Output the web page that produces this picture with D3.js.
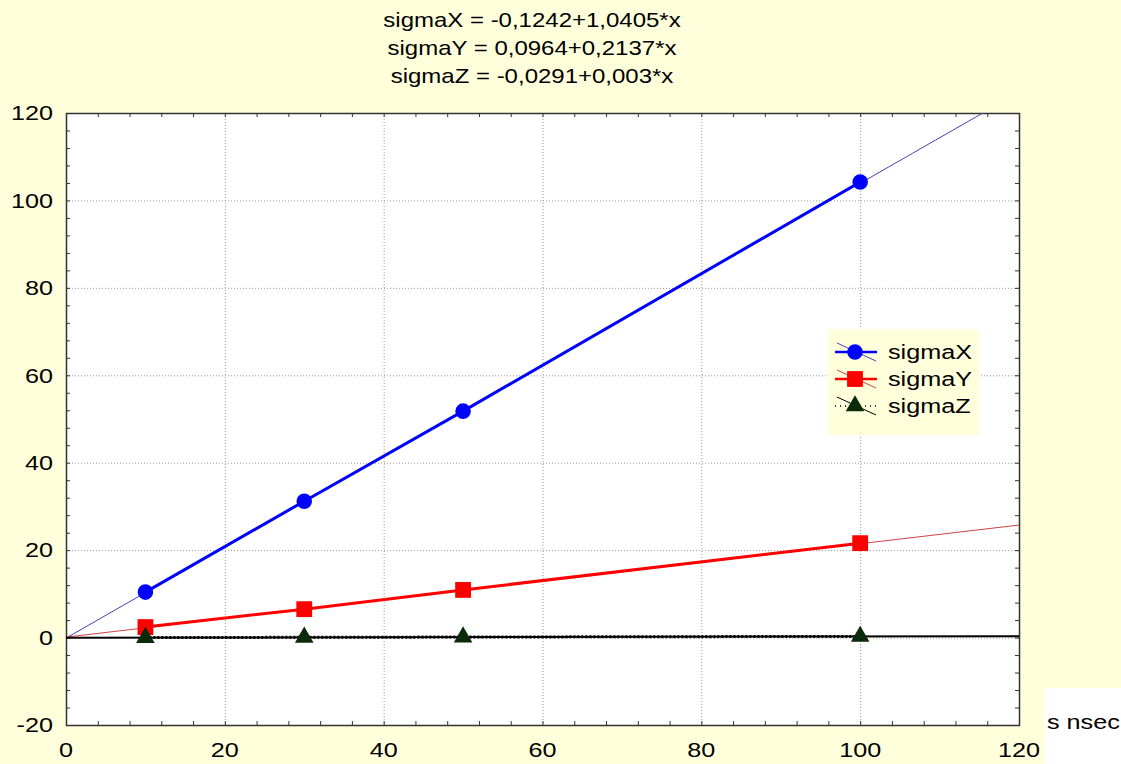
<!DOCTYPE html>
<html>
<head>
<meta charset="utf-8">
<script src="https://cdn.jsdelivr.net/npm/d3@7"></script>
<style>
  body { margin: 0; background: #ffffdc; }
  text { font-family: "Liberation Sans", Arial, sans-serif; fill: #000; }
</style>
</head>
<body>
<div class="container"></div>
<script>
// data
var xValues = [10, 30, 50, 100];
var sigmaX = [10.4, 31.2, 51.8, 104.2];
var sigmaY = [2.4, 6.5, 10.9, 21.6];
var sigmaZ = [0.0, 0.06, 0.12, 0.27];

// fitted lines, as printed in the title (intercept, slope)
var fitNames = ['sigmaX', 'sigmaY', 'sigmaZ'];
var fitIntercepts = [-0.1242, 0.0964, -0.0291];
var fitSlopes = [1.0405, 0.2137, 0.003];
var titleLines = [
  'sigmaX = -0,1242+1,0405*x',
  'sigmaY = 0,0964+0,2137*x',
  'sigmaZ = -0,0291+0,003*x'
];
var xTicks = [0, 20, 40, 60, 80, 100, 120];
var yTicks = [-20, 0, 20, 40, 60, 80, 100, 120];
var xLabel = 's nsec';

const WIDTH = 1121;
const HEIGHT = 764;
const LEFT = 66, RIGHT = 1019, TOP = 113, BOTTOM = 725;
const SX = 1.2; // the original picture is stretched sideways

var xScale = d3.scaleLinear().domain([0, 120]).range([LEFT, RIGHT]);
var yScale = d3.scaleLinear().domain([-20, 120]).range([BOTTOM, TOP]);

var svg = d3.select('.container').append('svg')
    .attr('width', WIDTH)
    .attr('height', HEIGHT);

svg.append('rect')
    .attr('width', WIDTH).attr('height', HEIGHT)
    .attr('fill', '#ffffdc');

// white box under the axis title
svg.append('rect')
    .attr('x', 1045).attr('y', 688)
    .attr('width', 76).attr('height', 76)
    .attr('fill', '#ffffff');

svg.append('rect')
    .attr('x', LEFT).attr('y', TOP)
    .attr('width', RIGHT - LEFT).attr('height', BOTTOM - TOP)
    .attr('fill', '#ffffff');

var stretched = (sel, x, y) => sel.attr('transform', `translate(${x},${y}) scale(${SX},1)`);

// title
titleLines.forEach((t, i) => {
  svg.append('text')
    .text(t)
    .attr('text-anchor', 'middle')
    .attr('font-size', 20)
    .call(stretched, 532, 27 + i * 28);
});

// grid
var grid = svg.append('g')
    .attr('stroke', '#999')
    .attr('stroke-width', 1)
    .attr('stroke-dasharray', '1,2');

grid.selectAll('.gx')
    .data(xTicks.slice(1, -1))
    .enter().append('line')
    .attr('x1', d => xScale(d) + 0.5).attr('x2', d => xScale(d) + 0.5)
    .attr('y1', TOP).attr('y2', BOTTOM);

grid.selectAll('.gy')
    .data(yTicks.slice(1, -1))
    .enter().append('line')
    .attr('y1', d => yScale(d) + 0.5).attr('y2', d => yScale(d) + 0.5)
    .attr('x1', LEFT).attr('x2', RIGHT);

// axes with inward minor ticks every 4 units
var minor = d3.range(0, 121, 4);
var minorY = d3.range(-20, 121, 4);

svg.append('g')
    .attr('transform', `translate(0,${BOTTOM})`)
    .call(d3.axisTop(xScale).tickValues(minor).tickSize(4).tickFormat(''));
svg.append('g')
    .attr('transform', `translate(0,${TOP})`)
    .call(d3.axisBottom(xScale).tickValues(minor).tickSize(4).tickFormat(''));
svg.append('g')
    .attr('transform', `translate(${LEFT},0)`)
    .call(d3.axisRight(yScale).tickValues(minorY).tickSize(4).tickFormat(''));
svg.append('g')
    .attr('transform', `translate(${RIGHT},0)`)
    .call(d3.axisLeft(yScale).tickValues(minorY).tickSize(4).tickFormat(''));

svg.selectAll('.domain').remove();
svg.selectAll('.tick line').attr('stroke', '#333');

svg.append('rect')
    .attr('x', LEFT + 0.5).attr('y', TOP + 0.5)
    .attr('width', RIGHT - LEFT).attr('height', BOTTOM - TOP)
    .attr('fill', 'none')
    .attr('stroke', '#333')
    .attr('stroke-width', 1.5);

// tick labels
xTicks.forEach(d => {
  svg.append('text').text(d)
    .attr('text-anchor', 'middle')
    .attr('font-size', 21)
    .call(stretched, xScale(d), 757);
});
yTicks.forEach(d => {
  svg.append('text').text(d)
    .attr('text-anchor', 'end')
    .attr('font-size', 21)
    .attr('dy', '0.35em')
    .call(stretched, 53, yScale(d));
});

svg.append('text').text(xLabel)
    .attr('font-size', 21)
    .call(stretched, 1047, 729);

// series
var series = [
  { name: 'sigmaX', values: sigmaX, color: '#0000ff', fit: '#4444bb', shape: d3.symbolCircle, size: 190, dash: null },
  { name: 'sigmaY', values: sigmaY, color: '#ff0000', fit: '#cc4444', shape: d3.symbolSquare, size: 250, dash: null },
  { name: 'sigmaZ', values: sigmaZ, color: '#000000', fit: '#000000', shape: d3.symbolTriangle, size: 150, dash: '2,2' }
];

svg.append('clipPath').attr('id', 'plot')
    .append('rect')
    .attr('x', LEFT).attr('y', TOP)
    .attr('width', RIGHT - LEFT).attr('height', BOTTOM - TOP);

var plot = svg.append('g').attr('clip-path', 'url(#plot)');

var line = d3.line()
    .x(d => xScale(d[0]))
    .y(d => yScale(d[1]));

series.forEach((s, i) => {
  var fitPts = [0, 120].map(x => [x, fitIntercepts[i] + fitSlopes[i] * x]);
  plot.append('path')
    .attr('d', line(fitPts))
    .attr('fill', 'none')
    .attr('stroke', s.fit)
    .attr('stroke-width', i === 2 ? 2 : 1);

  plot.append('path')
    .attr('d', line(xValues.map((x, j) => [x, s.values[j]])))
    .attr('fill', 'none')
    .attr('stroke', s.color)
    .attr('stroke-width', 3)
    .attr('stroke-dasharray', s.dash);
});

series.forEach(s => {
  plot.append('g').selectAll('path')
    .data(xValues)
    .enter().append('path')
    .attr('d', d3.symbol().type(s.shape).size(s.size))
    .attr('transform', (d, j) => `translate(${xScale(d)},${yScale(s.values[j])})`)
    .attr('fill', s.shape === d3.symbolTriangle ? '#0a2a0a' : s.color);
});

// legend
var legend = svg.append('g');
legend.append('rect')
    .attr('x', 828).attr('y', 329)
    .attr('width', 151).attr('height', 106)
    .attr('fill', '#ffffdc');

series.forEach((s, i) => {
  var cy = 352 + i * 27;
  legend.append('line')
    .attr('x1', 837).attr('x2', 876)
    .attr('y1', cy - 9).attr('y2', cy + 9)
    .attr('stroke', s.fit).attr('stroke-width', 1);
  legend.append('line')
    .attr('x1', 835).attr('x2', 877)
    .attr('y1', cy).attr('y2', cy)
    .attr('stroke', s.color)
    .attr('stroke-width', s.dash ? 1.5 : 2.5)
    .attr('stroke-dasharray', s.dash ? '1,4' : null);
  legend.append('path')
    .attr('d', d3.symbol().type(s.shape).size(s.size))
    .attr('transform', `translate(855,${cy})`)
    .attr('fill', s.shape === d3.symbolTriangle ? '#0a2a0a' : s.color);
  legend.append('text').text(s.name)
    .attr('font-size', 21)
    .attr('dy', '0.35em')
    .call(stretched, 888, cy);
});
</script>
</body>
</html>
